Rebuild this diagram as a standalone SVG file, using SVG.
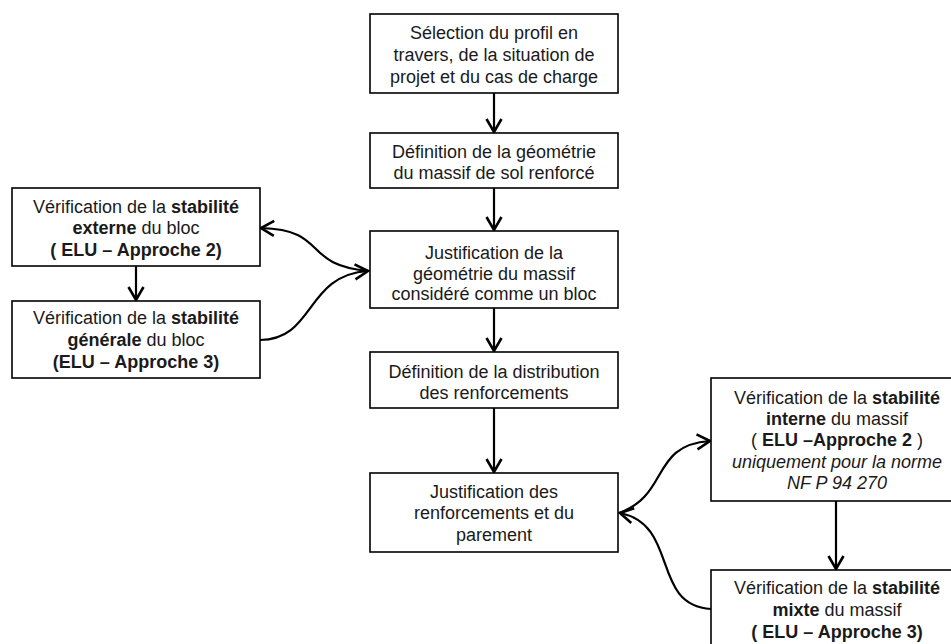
<svg xmlns="http://www.w3.org/2000/svg" width="951" height="644" viewBox="0 0 951 644">
<style>
.box{fill:#fff;stroke:#000;stroke-width:1.6}
text{font-family:"Liberation Sans",Arial,sans-serif;font-size:18px;fill:#1a1a1a;text-anchor:middle}
.b{font-weight:bold}
.i{font-style:italic}
.c{fill:none;stroke:#000;stroke-width:2.2}
</style>
<defs>
<marker id="ah" markerWidth="18" markerHeight="18" refX="14" refY="9" orient="auto" markerUnits="userSpaceOnUse">
<path d="M1,1.5 L14,9 L1,16.5" fill="none" stroke="#000" stroke-width="2.6" stroke-linejoin="miter"/>
</marker>
</defs>
<rect width="951" height="644" fill="#fff"/>
<g id="connectors">
<path class="c" d="M494,93 L494,132" marker-end="url(#ah)"/>
<path class="c" d="M494,188 L494,230" marker-end="url(#ah)"/>
<path class="c" d="M494,308 L494,351" marker-end="url(#ah)"/>
<path class="c" d="M494,408 L494,472" marker-end="url(#ah)"/>
<path class="c" d="M136,266 L136,300" marker-end="url(#ah)"/>
<path class="c" d="M836,501 L836,569" marker-end="url(#ah)"/>
<path class="c" d="M369,271 C300,265 330,230 261,228" marker-end="url(#ah)"/>
<path class="c" d="M260,340 C315,340 305,275 368,271" marker-end="url(#ah)"/>
<path class="c" d="M619,513 C670,495 650,445 710,441" marker-end="url(#ah)"/>
<path class="c" d="M711,609 C650,605 680,525 620,513" marker-end="url(#ah)"/>
</g>
<g id="n1"><rect class="box" x="370" y="14" width="248" height="79"/>
<text x="494" y="39">Sélection du profil en</text>
<text x="494" y="61">travers, de la situation de</text>
<text x="494" y="83">projet et du cas de charge</text></g>
<g id="n2"><rect class="box" x="370" y="133" width="248" height="55"/>
<text x="494" y="158">Définition de la géométrie</text>
<text x="494" y="179">du massif de sol renforcé</text></g>
<g id="n3"><rect class="box" x="370" y="231" width="248" height="77"/>
<text x="494" y="259">Justification de la</text>
<text x="494" y="280">géométrie du massif</text>
<text x="494" y="300">considéré comme un bloc</text></g>
<g id="n4"><rect class="box" x="370" y="352" width="248" height="56"/>
<text x="494" y="378">Définition de la distribution</text>
<text x="494" y="399">des renforcements</text></g>
<g id="n5"><rect class="box" x="370" y="473" width="248" height="79"/>
<text x="494" y="498">Justification des</text>
<text x="494" y="519">renforcements et du</text>
<text x="494" y="541">parement</text></g>
<g id="nA"><rect class="box" x="12" y="188" width="248" height="78"/>
<text x="136" y="213">Vérification de la <tspan class="b">stabilité</tspan></text>
<text x="136" y="234"><tspan class="b">externe</tspan> du bloc</text>
<text x="136" y="256" class="b">( ELU – Approche 2)</text></g>
<g id="nB"><rect class="box" x="12" y="301" width="248" height="77"/>
<text x="136" y="324">Vérification de la <tspan class="b">stabilité</tspan></text>
<text x="136" y="346"><tspan class="b">générale</tspan> du bloc</text>
<text x="136" y="368" class="b">(ELU – Approche 3)</text></g>
<g id="n6"><rect class="box" x="711" y="378" width="252" height="123"/>
<text x="837" y="404">Vérification de la <tspan class="b">stabilité</tspan></text>
<text x="837" y="425"><tspan class="b">interne</tspan> du massif</text>
<text x="837" y="446">( <tspan class="b">ELU –Approche 2</tspan> )</text>
<text x="837" y="468" class="i">uniquement pour la norme</text>
<text x="837" y="489" class="i">NF P 94 270</text></g>
<g id="n7"><rect class="box" x="711" y="570" width="252" height="84"/>
<text x="837" y="594">Vérification de la <tspan class="b">stabilité</tspan></text>
<text x="837" y="616"><tspan class="b">mixte</tspan> du massif</text>
<text x="837" y="638" class="b">( ELU – Approche 3)</text></g>
</svg>
